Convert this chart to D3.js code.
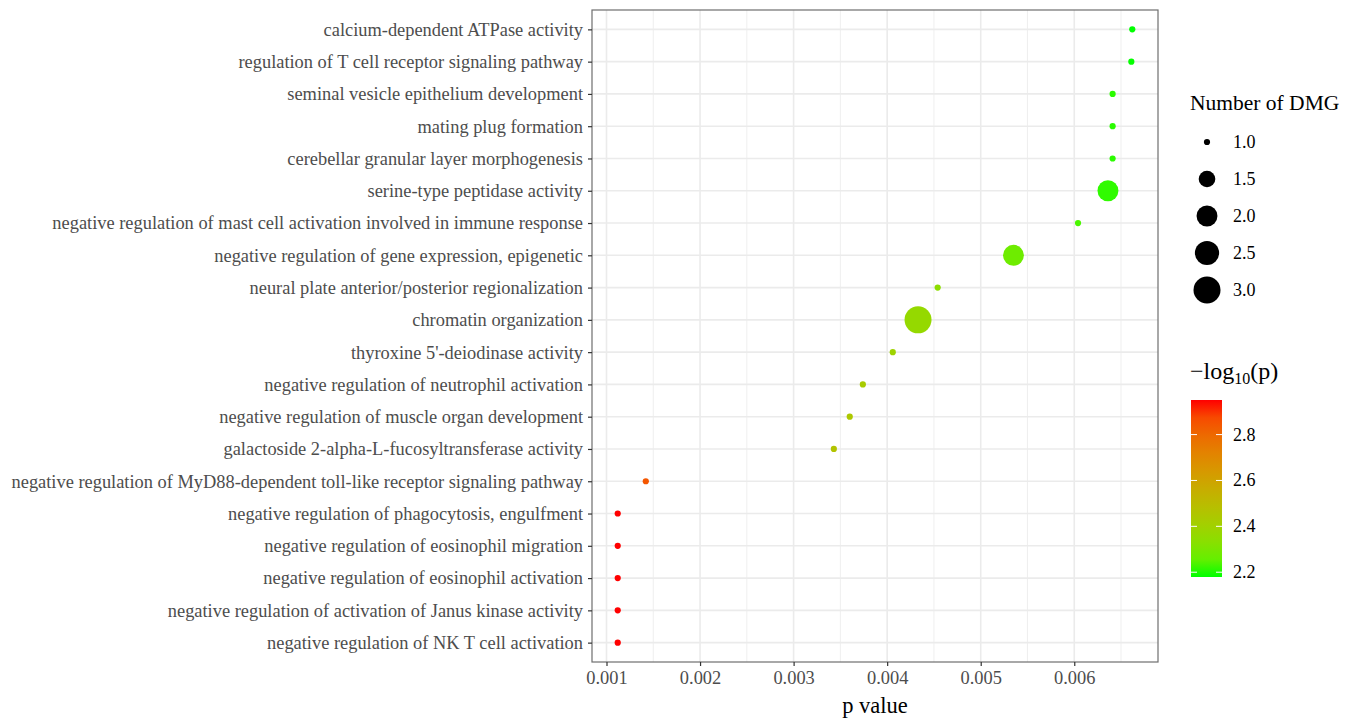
<!DOCTYPE html>
<html>
<head>
<meta charset="utf-8">
<script src="https://cdn.jsdelivr.net/npm/d3@7"></script>
<style>
  body { margin: 0; background: #fff; }
  text { font-family: "Liberation Serif", "DejaVu Serif", serif; }
</style>
</head>
<body>
<svg id="chart"></svg>
<script>
// ---------------------- data ---------------------------
const terms = [
  "calcium-dependent ATPase activity",
  "regulation of T cell receptor signaling pathway",
  "seminal vesicle epithelium development",
  "mating plug formation",
  "cerebellar granular layer morphogenesis",
  "serine-type peptidase activity",
  "negative regulation of mast cell activation involved in immune response",
  "negative regulation of gene expression, epigenetic",
  "neural plate anterior/posterior regionalization",
  "chromatin organization",
  "thyroxine 5'-deiodinase activity",
  "negative regulation of neutrophil activation",
  "negative regulation of muscle organ development",
  "galactoside 2-alpha-L-fucosyltransferase activity",
  "negative regulation of MyD88-dependent toll-like receptor signaling pathway",
  "negative regulation of phagocytosis, engulfment",
  "negative regulation of eosinophil migration",
  "negative regulation of eosinophil activation",
  "negative regulation of activation of Janus kinase activity",
  "negative regulation of NK T cell activation"
];
const pValues = [0.00662, 0.00661, 0.00641, 0.00641, 0.00641, 0.00636, 0.00604, 0.00535,
  0.00454, 0.00433, 0.00406, 0.00374, 0.00360, 0.00343, 0.00142,
  0.00112, 0.00112, 0.00112, 0.00112, 0.00112];
const dmgCounts = [1, 1, 1, 1, 1, 2, 1, 2, 1, 3, 1, 1, 1, 1, 1, 1, 1, 1, 1, 1];
const xTicks = [0.001, 0.002, 0.003, 0.004, 0.005, 0.006];
const xMinorTicks = [0.0015, 0.0025, 0.0035, 0.0045, 0.0055, 0.0065];
const sizeBreaks = [1.0, 1.5, 2.0, 2.5, 3.0];
const colorTicks = [2.2, 2.4, 2.6, 2.8];

// ---------------------- layout ---------------------------
const width = 1362, height = 721;
const panel = { left: 592, right: 1158, top: 10, bottom: 662 };
const axisFont = "18.4px";

const svg = d3.select("#chart").attr("width", width).attr("height", height);

const pMin = d3.min(pValues), pMax = d3.max(pValues);
const pad = (pMax - pMin) * 0.05;
const xScale = d3.scaleLinear()
  .domain([pMin - pad, pMax + pad])
  .range([panel.left, panel.right]);

const yScale = d3.scalePoint()
  .domain(terms)
  .range([panel.top, panel.bottom])
  .padding(0.6);

const logP = pValues.map(p => -Math.log10(p));
const colorScale = d3.scaleLinear()
  .domain(d3.extent(logP))
  .range(["#00ff00", "#ff0000"])
  .interpolate(d3.interpolateLab);

// size ~ area, like ggplot scale_size
const sizeLin = d3.scaleLinear().domain([0, 1]).range([3.1, 13.5]);
const radius = v => sizeLin(Math.sqrt((v - 1) / 2));

// grid
const grid = svg.append("g");
xMinorTicks.forEach(t => {
  grid.append("line")
    .attr("x1", xScale(t)).attr("x2", xScale(t))
    .attr("y1", panel.top).attr("y2", panel.bottom)
    .attr("stroke", "#ebebeb").attr("stroke-width", 0.8);
});
xTicks.forEach(t => {
  grid.append("line")
    .attr("x1", xScale(t)).attr("x2", xScale(t))
    .attr("y1", panel.top).attr("y2", panel.bottom)
    .attr("stroke", "#ebebeb").attr("stroke-width", 1.6);
});
terms.forEach(t => {
  grid.append("line")
    .attr("x1", panel.left).attr("x2", panel.right)
    .attr("y1", yScale(t)).attr("y2", yScale(t))
    .attr("stroke", "#ebebeb").attr("stroke-width", 1.6);
});

// points
svg.append("g").selectAll("circle")
  .data(terms.map((t, i) => ({ term: t, p: pValues[i], n: dmgCounts[i], lp: logP[i] })))
  .join("circle")
  .attr("cx", d => xScale(d.p))
  .attr("cy", d => yScale(d.term))
  .attr("r", d => radius(d.n))
  .attr("fill", d => colorScale(d.lp));

// panel border
svg.append("rect")
  .attr("x", panel.left).attr("y", panel.top)
  .attr("width", panel.right - panel.left).attr("height", panel.bottom - panel.top)
  .attr("fill", "none").attr("stroke", "#6e6e6e").attr("stroke-width", 1.2);

// axes
const xAxis = svg.append("g")
  .attr("transform", "translate(0," + panel.bottom + ")")
  .call(d3.axisBottom(xScale).tickValues(xTicks).tickFormat(d3.format(".3f")).tickSize(4).tickPadding(5));
const yAxis = svg.append("g")
  .attr("transform", "translate(" + panel.left + ",0)")
  .call(d3.axisLeft(yScale).tickSize(4).tickPadding(5));
[xAxis, yAxis].forEach(a => {
  a.select(".domain").remove();
  a.selectAll(".tick line").attr("stroke", "#333").attr("stroke-width", 1.2);
  a.selectAll(".tick text").attr("fill", "#4d4d4d").style("font-size", axisFont)
    .style("font-family", "'Liberation Serif', serif");
});

svg.append("text")
  .attr("x", (panel.left + panel.right) / 2).attr("y", 713)
  .attr("text-anchor", "middle").style("font-size", "22.5px").attr("fill", "#000")
  .text("p value");

// size legend
const lx = 1190;
svg.append("text").attr("x", lx).attr("y", 110).style("font-size", "21.5px").text("Number of DMG");
const sizeLeg = svg.append("g");
sizeBreaks.forEach((b, i) => {
  const cy = 142 + i * 37;
  sizeLeg.append("circle").attr("cx", 1207).attr("cy", cy).attr("r", radius(b)).attr("fill", "#000");
  sizeLeg.append("text").attr("x", 1233).attr("y", cy + 6).style("font-size", "18px").text(b.toFixed(1));
});

// colour legend
const title = svg.append("text").attr("x", lx).attr("y", 379).style("font-size", "24px");
title.append("tspan").text("\u2212log");
title.append("tspan").attr("dy", 5).style("font-size", "16px").text("10");
title.append("tspan").attr("dy", -5).text("(p)");

const barTop = 400, barBottom = 577, barX = 1191, barW = 31;
const barScale = d3.scaleLinear().domain(d3.extent(logP)).range([barBottom, barTop]);
const defs = svg.append("defs");
const grad = defs.append("linearGradient").attr("id", "cbar")
  .attr("x1", 0).attr("y1", 1).attr("x2", 0).attr("y2", 0);
d3.range(0, 1.0001, 0.1).forEach(f => {
  grad.append("stop").attr("offset", f)
    .attr("stop-color", colorScale(barScale.domain()[0] + f * (barScale.domain()[1] - barScale.domain()[0])));
});
svg.append("rect").attr("x", barX).attr("y", barTop).attr("width", barW)
  .attr("height", barBottom - barTop).attr("fill", "url(#cbar)");
colorTicks.forEach(t => {
  const y = barScale(t);
  svg.append("line").attr("x1", barX).attr("x2", barX + 6).attr("y1", y).attr("y2", y)
    .attr("stroke", "#fff").attr("stroke-width", 1);
  svg.append("line").attr("x1", barX + barW - 6).attr("x2", barX + barW).attr("y1", y).attr("y2", y)
    .attr("stroke", "#fff").attr("stroke-width", 1);
  svg.append("text").attr("x", 1233).attr("y", y + 6).style("font-size", "18px").text(t.toFixed(1));
});
</script>
</body>
</html>
